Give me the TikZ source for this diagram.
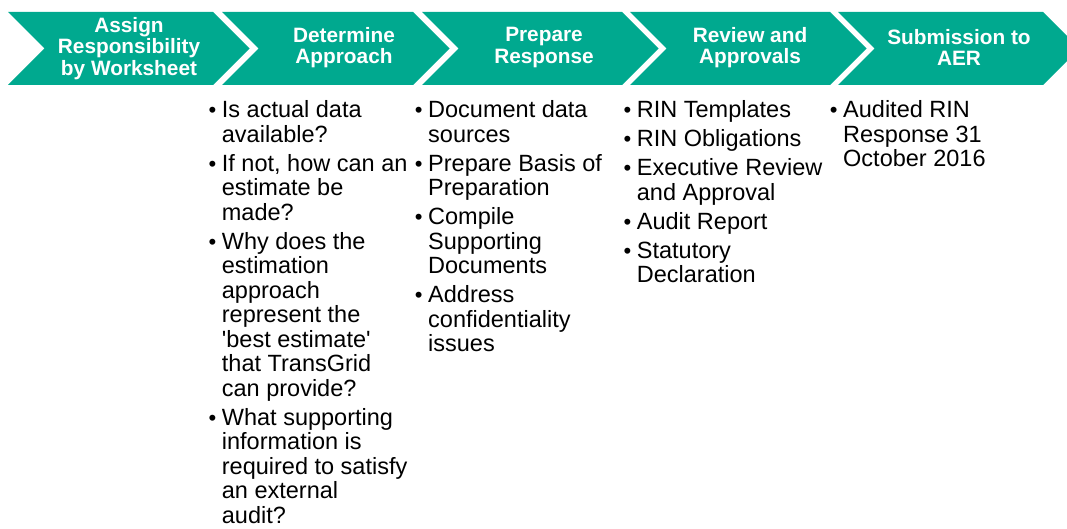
\documentclass[tikz,border=0pt]{standalone}
\usepackage{fontspec}
\setmainfont{Liberation Sans}
\definecolor{stepteal}{HTML}{00A98F}
\newcommand{\bul}{\llap{\makebox[19pt]{\raisebox{0.3pt}{\fontsize{22}{22}\selectfont\textbullet}}}}

\begin{document}
\begin{tikzpicture}[x=1pt,y=-1pt,
  chev/.style={fill=stepteal},
  steptext/.style={text=white,align=center,font=\fontsize{20.8}{21.5}\selectfont\bfseries},
  listtext/.style={anchor=base west,inner sep=0pt,font=\fontsize{23.5}{24.5}\selectfont}]
\useasboundingbox (0,0) rectangle (1067,529);
% chevrons
\fill[chev] (8,12) -- (213,12) -- (249.5,48.5) -- (213,85) -- (8,85) -- (44.5,48.5) -- cycle;
\fill[chev] (222,12) -- (413,12) -- (449.5,48.5) -- (413,85) -- (222,85) -- (258.5,48.5) -- cycle;
\fill[chev] (422,12) -- (622,12) -- (658.5,48.5) -- (622,85) -- (422,85) -- (458.5,48.5) -- cycle;
\fill[chev] (630,12) -- (830,12) -- (866.5,48.5) -- (830,85) -- (630,85) -- (666.5,48.5) -- cycle;
\fill[chev] (838,12) -- (1043,12) -- (1079.5,48.5) -- (1043,85) -- (838,85) -- (874.5,48.5) -- cycle;
\node[steptext] (assign) at (129,48.5) {Assign\\Responsibility\\by Worksheet};
\node[steptext] (approach) at (344,47.5) {Determine\\Approach};
\node[steptext] (prepare) at (544,47.5) {Prepare\\Response};
\node[steptext] (review) at (750,47.5) {Review and\\Approvals};
\node[steptext] (submit) at (959,47.5) {Submission to\\AER};
% lists below
\node[listtext] (approachlist) at (221.7,118) {\begin{tabular}[t]{@{}l@{}}
\bul Is actual data\\
available?\\[4.5pt]
\bul If not, how can an\\
estimate be\\
made?\\[4.5pt]
\bul Why does the\\
estimation\\
approach\\
represent the\\
\textquotesingle best estimate\textquotesingle\\
that TransGrid\\
can provide?\\[4.5pt]
\bul What supporting\\
information is\\
required to satisfy\\
an external\\
audit?
\end{tabular}};
\node[listtext] (preparelist) at (428,118) {\begin{tabular}[t]{@{}l@{}}
\bul Document data\\
sources\\[4.5pt]
\bul Prepare Basis of\\
Preparation\\[4.5pt]
\bul Compile\\
Supporting\\
Documents\\[4.5pt]
\bul Address\\
confidentiality\\
issues
\end{tabular}};
\node[listtext] (reviewlist) at (636.7,118) {\begin{tabular}[t]{@{}l@{}}
\bul RIN Templates\\[4.5pt]
\bul RIN Obligations\\[4.5pt]
\bul Executive Review\\
and Approval\\[4.5pt]
\bul Audit Report\\[4.5pt]
\bul Statutory\\
Declaration
\end{tabular}};
\node[listtext] (submitlist) at (843,118) {\begin{tabular}[t]{@{}l@{}}
\bul Audited RIN\\
Response 31\\
October 2016
\end{tabular}};
\end{tikzpicture}
\end{document}
